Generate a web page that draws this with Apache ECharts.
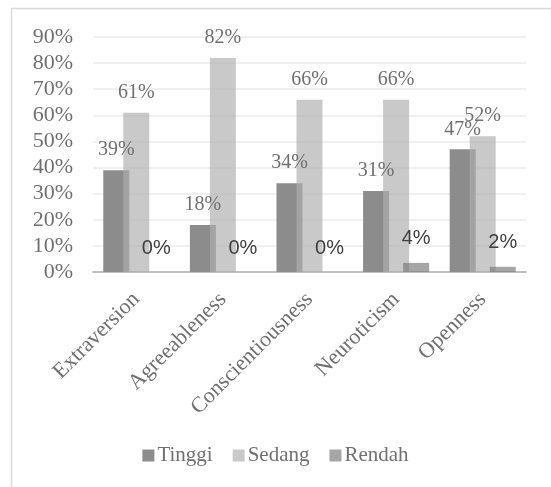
<!DOCTYPE html>
<html>

<head>
    <meta charset="utf-8">
    <script src="https://cdn.jsdelivr.net/npm/echarts@6/dist/echarts.min.js"></script>
    <style>
        html, body { margin: 0; padding: 0; background: #fff; }
    </style>
</head>

<body>
    <div id="main" style="width: 551px;height:487px;"></div>
    <script type="text/javascript">
        // data
        var categories = ['Extraversion', 'Agreeableness', 'Conscientiousness', 'Neuroticism', 'Openness'];
        var tinggi = [39, 18, 34, 31, 47];
        var sedang = [61, 82, 66, 66, 52];
        var rendah = [0, 0, 0, 3.5, 2];
        var yTicks = [0, 10, 20, 30, 40, 50, 60, 70, 80, 90];

        var serif = '"Liberation Serif", "DejaVu Serif", serif';
        var myChart = echarts.init(document.getElementById('main'));

        function pct(p) { return Math.round(p.value) + '%'; }

        var serifLabel = {
            show: true,
            position: 'top',
            distance: 10,
            formatter: pct,
            fontFamily: serif,
            fontSize: 20,
            color: '#707070'
        };

        option = {
            animation: false,
            graphic: [{
                type: 'rect',
                shape: { x: 11.5, y: 8.5, width: 560, height: 500 },
                style: { fill: 'none', stroke: '#d9d9d9', lineWidth: 1.5 },
                silent: true
            }],
            legend: {
                bottom: 16,
                left: 'center',
                itemWidth: 12,
                itemHeight: 12,
                itemGap: 20,
                icon: 'rect',
                textStyle: { fontFamily: serif, fontSize: 21, color: '#707070', padding: [0, 0, 0, -2] },
                data: ['Tinggi', 'Sedang', 'Rendah']
            },
            grid: { left: 93, right: 25, top: 37, bottom: 215 },
            xAxis: {
                type: 'category',
                data: categories,
                axisLine: { lineStyle: { color: '#c0c0c0', width: 2 } },
                axisTick: { show: false },
                axisLabel: {
                    rotate: 45,
                    margin: 24,
                    interval: 0,
                    fontFamily: serif,
                    fontSize: 22,
                    color: '#707070'
                }
            },
            yAxis: {
                type: 'value',
                min: yTicks[0],
                max: yTicks[yTicks.length - 1],
                interval: 10,
                axisLine: { show: false },
                axisTick: { show: false },
                splitLine: { lineStyle: { color: '#ebebeb', width: 1.5 } },
                axisLabel: {
                    formatter: '{value}%',
                    margin: 20,
                    fontFamily: serif,
                    fontSize: 22,
                    color: '#707070'
                }
            },
            series: [{
                name: 'Tinggi',
                type: 'bar',
                data: tinggi,
                barWidth: 26,
                barGap: '-23%',
                itemStyle: { color: '#8c8c8c' },
                label: serifLabel
            }, {
                name: 'Sedang',
                type: 'bar',
                data: sedang,
                barWidth: 26,
                barGap: '-23%',
                itemStyle: { color: 'rgba(175,175,175,0.67)' },
                label: serifLabel
            }, {
                name: 'Rendah',
                type: 'bar',
                data: rendah,
                barWidth: 26,
                barGap: '-23%',
                itemStyle: { color: 'rgba(122,122,122,0.67)' },
                label: {
                    show: true,
                    position: 'top',
                    distance: 14,
                    formatter: pct,
                    fontFamily: '"Liberation Sans", "DejaVu Sans", sans-serif',
                    fontSize: 20,
                    color: '#404040'
                }
            }]
        };
        myChart.setOption(option);
    </script>
</body>

</html>
